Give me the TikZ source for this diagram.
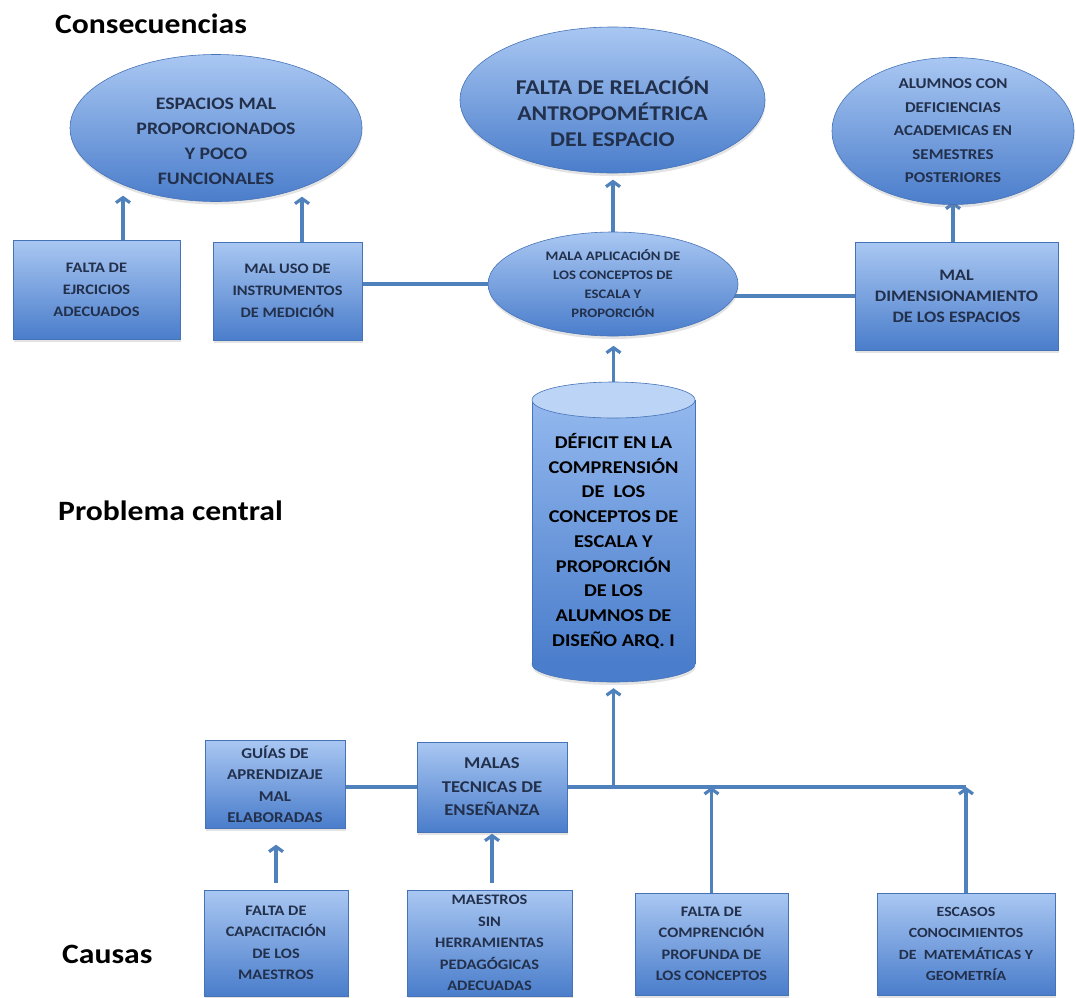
\documentclass[tikz,border=0pt]{standalone}
\usepackage{fontspec}
\setmainfont{Carlito}[FakeStretch=1.13]
\usetikzlibrary{arrows.meta,shapes.geometric,backgrounds,shadows}

\definecolor{cLine}{HTML}{4F81BD}
\definecolor{cTop}{HTML}{A9C7F2}
\definecolor{cBot}{HTML}{4A7DCB}
\definecolor{cEdge}{HTML}{4673B8}
\definecolor{cText}{HTML}{22304C}
\definecolor{cCap}{HTML}{BCD4F5}
\definecolor{cBodyTop}{HTML}{93B8EE}

\tikzset{
  fz/.style 2 args={font=\fontsize{#1}{#2}\selectfont\bfseries},
  shp/.style={top color=cTop, bottom color=cBot, draw=cEdge, line width=0.6pt, inner sep=0pt,
              drop shadow={opacity=0.22, shadow xshift=0.5pt, shadow yshift=-3pt}},
  bx/.style={shp, rectangle, align=center, text=cText},
  el/.style={shp, ellipse, align=center, text=cText},
  lbl/.style={align=center, text=cText, inner sep=0pt},
  conn/.style={draw=cLine, line width=3.2pt},
  arr/.style={conn, -{Straight Barb[length=5pt,width=14pt]}},
  head/.style={font=\fontsize{28}{32}\selectfont\bfseries, text=black, anchor=base west, inner sep=0pt}
}

\begin{document}
\begin{tikzpicture}[x=1pt, y=-1pt]
\useasboundingbox (0,0) rectangle (1076,997);

% headings
\node[head] (hc) at (55,33) {Consecuencias};
\node[head] (hp) at (58,520) {Problema central};
\node[head] (hk) at (62,963) {Causas};

% consequences
\node[el, minimum width=292pt, minimum height=147pt] (e1) at (216,128) {};
\node[lbl, fz={17.5}{25}] (e1t) at (216,141) {ESPACIOS MAL\\PROPORCIONADOS\\Y POCO\\FUNCIONALES};
\node[el, minimum width=305pt, minimum height=146pt] (e2) at (612.5,100) {};
\node[lbl, fz={21}{26}] (e2t) at (612.5,112) {FALTA DE RELACIÓN\\ANTROPOMÉTRICA\\DEL ESPACIO};
\node[el, minimum width=242pt, minimum height=138pt, fz={15}{23.5}] (e3) at (953,131) {ALUMNOS CON\\DEFICIENCIAS\\ACADEMICAS EN\\SEMESTRES\\POSTERIORES};

\node[bx, minimum width=167pt, minimum height=99pt, fz={14.5}{22}] (b1) at (96.5,289.5) {FALTA DE\\EJRCICIOS\\ADECUADOS};
\node[bx, minimum width=149pt, minimum height=98pt, fz={14.5}{22}] (b2) at (287.5,291) {MAL USO DE\\INSTRUMENTOS\\DE MEDICIÓN};
\node[el, minimum width=250pt, minimum height=104pt, fz={13}{19}] (em) at (613,284) {MALA APLICACIÓN DE\\LOS CONCEPTOS DE\\ESCALA Y\\PROPORCIÓN};
\node[bx, minimum width=203pt, minimum height=108pt, fz={16}{21}] (b3) at (956.5,296) {MAL\\DIMENSIONAMIENTO\\DE LOS ESPACIOS};

% central problem: cylinder
\node[ellipse, fill=cBot, draw=cEdge, line width=0.6pt, minimum width=163pt, minimum height=36pt, inner sep=0pt,
      drop shadow={opacity=0.22, shadow xshift=0.5pt, shadow yshift=-3pt}] (cylb) at (613.5,664) {};
\node[rectangle, top color=cBodyTop, bottom color=cBot, minimum width=163pt, minimum height=264pt, inner sep=0pt] (cylm) at (613.5,532) {};
\draw[cEdge, line width=0.6pt] (cylm.north west) -- (cylm.south west);
\draw[cEdge, line width=0.6pt] (cylm.north east) -- (cylm.south east);
\node[ellipse, fill=cCap, draw=cEdge, line width=0.6pt, minimum width=163pt, minimum height=36pt, inner sep=0pt] (cylt) at (613.5,400) {};
\node[rectangle, minimum width=163pt, minimum height=300pt, inner sep=0pt] (cyl) at (613.5,532) {};
\node[align=center, inner sep=0pt, text=black, font=\fontsize{18}{24.75}\selectfont\bfseries] (cyltx) at (613.5,541)
  {DÉFICIT EN LA\\COMPRENSIÓN\\DE\ \ LOS\\CONCEPTOS DE\\ESCALA Y\\PROPORCIÓN\\DE LOS\\ALUMNOS DE\\DISEÑO ARQ. I};

% causes
\node[bx, minimum width=140pt, minimum height=88pt, fz={15}{21.5}] (g1) at (275,784) {GUÍAS DE\\APRENDIZAJE\\MAL\\ELABORADAS};
\node[bx, minimum width=150pt, minimum height=90pt, fz={16.5}{23.5}] (g2) at (492,787) {MALAS\\TECNICAS DE\\ENSEÑANZA};
\node[bx, minimum width=144pt, minimum height=106pt, fz={14.5}{21.5}] (c1) at (276,943) {FALTA DE\\CAPACITACIÓN\\DE LOS\\MAESTROS};
\node[bx, minimum width=165pt, minimum height=106pt, fz={14.5}{21.5}] (c2) at (489.5,943) {MAESTROS\\SIN\\HERRAMIENTAS\\PEDAGÓGICAS\\ADECUADAS};
\node[bx, minimum width=153pt, minimum height=102pt, fz={14.5}{21.5}] (c3) at (711.5,944) {FALTA DE\\COMPRENCIÓN\\PROFUNDA DE\\LOS CONCEPTOS};
\node[bx, minimum width=178pt, minimum height=102pt, fz={14}{21.5}] (c4) at (966,944) {ESCASOS\\CONOCIMIENTOS\\DE\ \ MATEMÁTICAS Y\\GEOMETRÍA};

\coordinate (J) at (613.5,787);

\begin{scope}[on background layer]
  % top part
  \draw[conn] (b2.east |- em.west) -- (em.center);
  \draw[conn] (b3.west) -- (em.center |- b3.west);
  \draw[arr] ([xshift=26.5pt]b1.north) -- ++(0,-44);
  \draw[arr] ([xshift=14.5pt]b2.north) -- ++(0,-45);
  \draw[arr] (em.north) -- ++(0,-52);
  \draw[arr] ([xshift=-3.5pt]b3.north) -- ++(0,-40);
  \draw[arr] (cyl.north) -- ++(0,-36);
  % bottom part
  \draw[conn] (g1.east |- g2.west) -- (g2.west);
  \draw[conn] (g2.east |- J) -- (c4.north |- J);
  \draw[arr] (J) -- ([yshift=-6pt]cyl.south);
  \draw[arr] (c3.north) -- (c3.north |- J);
  \draw[arr] (c4.north) -- (c4.north |- J);
  \draw[arr] ([yshift=7pt]c1.north) -- ++(0,-38);
  \draw[arr] ([xshift=2.5pt,yshift=7pt]c2.north) -- ++(0,-49);
\end{scope}
\end{tikzpicture}
\end{document}
